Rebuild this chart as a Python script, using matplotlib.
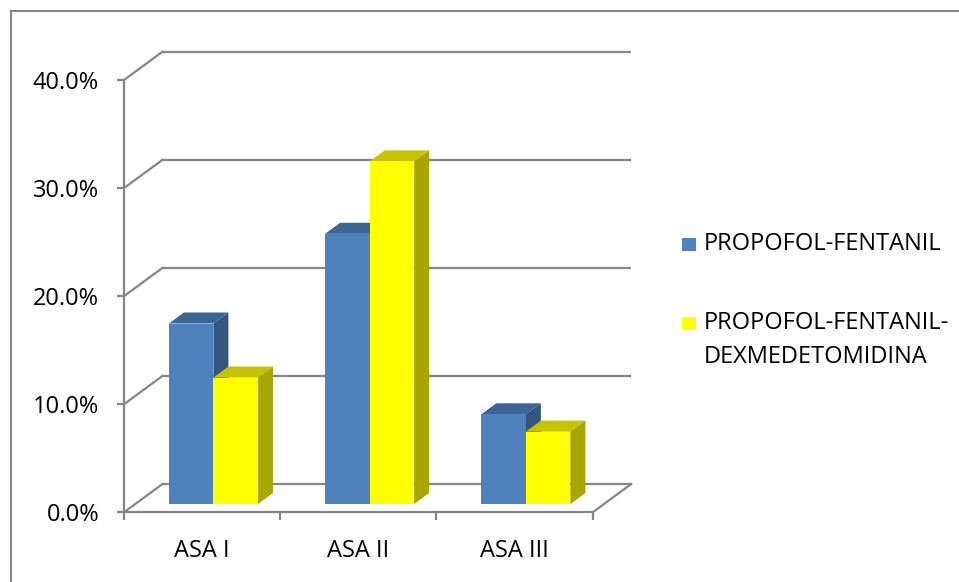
import matplotlib
matplotlib.use('Agg')
import matplotlib.pyplot as plt
from matplotlib.patches import Polygon, Rectangle
from matplotlib.lines import Line2D

# ---- data ----
categories = ['ASA I', 'ASA II', 'ASA III']
series_names = ['PROPOFOL-FENTANIL', 'PROPOFOL-FENTANIL-\nDEXMEDETOMIDINA']
propofol_fentanil = [16.7, 25.0, 8.3]
propofol_fentanil_dex = [11.7, 31.7, 6.7]
y_ticks = [0, 10, 20, 30, 40]
y_tick_labels = ['0.0%', '10.0%', '20.0%', '30.0%', '40.0%']

series_values = [propofol_fentanil, propofol_fentanil_dex]
front_colors = ['#4F81BD', '#FFFF00']
top_colors = ['#3D6594', '#C6C400']
side_colors = ['#34557E', '#A8A600']

plt.rcParams['font.family'] = ['Open Sans', 'DejaVu Sans']
FS = 17

W, H = 959, 582
fig = plt.figure(figsize=(W / 100, H / 100), dpi=100)


def fx(px):
    return px / W


def fy(py):
    return 1 - py / H


ax = fig.add_axes([fx(124), fy(512.3), fx(592.7) - fx(124), fy(80) - fy(512.3)])
ax.set_xlim(-0.5, 2.5)
ax.set_ylim(0, 40)
ax.patch.set_alpha(0)

DX = 38.5 / 156.2   # depth offset in category units
DY = 28.3 / 10.81   # depth offset in percent units
f0, f1 = 0.293, 0.683
w = 0.285
grid_c = '#868686'
lw = 1.6

# back wall gridlines and side wall diagonals
for v in y_ticks:
    ax.plot([-0.5 + DX, 2.5 + DX], [v + DY, v + DY], color=grid_c, lw=lw,
            clip_on=False, zorder=1, solid_capstyle='butt')
    ax.plot([-0.5, -0.5 + DX], [v, v + DY], color=grid_c, lw=lw,
            clip_on=False, zorder=1)
# floor right edge
ax.plot([2.5, 2.5 + DX], [0, DY], color=grid_c, lw=lw, clip_on=False, zorder=1)

# spines / ticks
for s in ['top', 'right']:
    ax.spines[s].set_visible(False)
for s in ['left', 'bottom']:
    ax.spines[s].set_color(grid_c)
    ax.spines[s].set_linewidth(lw)
    ax.spines[s].set_zorder(1)

ax.set_yticks(y_ticks, y_tick_labels)
ax.tick_params(axis='y', length=5, width=lw, color=grid_c, labelsize=FS, pad=13)
ax.set_xticks(range(len(categories)), categories)
ax.set_xticks([i - 0.5 for i in range(len(categories) + 1)], minor=True)
ax.tick_params(axis='x', which='major', length=0, labelsize=FS, pad=19)
ax.tick_params(axis='x', which='minor', length=6, width=lw, color=grid_c)

# 3D-looking bars
z = 3
for i in range(len(categories)):
    for s, vals in enumerate(series_values):
        h = vals[i]
        x0 = i - w + s * w
        x1 = x0 + w
        side = [(x1 + f0 * DX, f0 * DY), (x1 + f1 * DX, f1 * DY),
                (x1 + f1 * DX, h + f1 * DY), (x1 + f0 * DX, h + f0 * DY)]
        top = [(x0 + f0 * DX, h + f0 * DY), (x1 + f0 * DX, h + f0 * DY),
               (x1 + f1 * DX, h + f1 * DY), (x0 + f1 * DX, h + f1 * DY)]
        ax.add_patch(Polygon(side, closed=True, facecolor=side_colors[s],
                             edgecolor='none', zorder=z, clip_on=False))
        ax.add_patch(Polygon(top, closed=True, facecolor=top_colors[s],
                             edgecolor='none', zorder=z + 0.1, clip_on=False))
        ax.add_patch(Rectangle((x0 + f0 * DX, f0 * DY), w, h,
                               facecolor=front_colors[s], edgecolor='none',
                               zorder=z + 0.2, clip_on=False))
        z += 1

# legend (manual)
legend_rows = [(238, [244]), (317, [323, 357])]
for s, (sq_top, line_ys) in enumerate(legend_rows):
    fig.add_artist(Rectangle((fx(682), fy(sq_top + 13)), fx(14), 13 / H,
                             transform=fig.transFigure,
                             facecolor=front_colors[s], edgecolor='none'))
    for line, ly in zip(series_names[s].split('\n'), line_ys):
        fig.text(fx(704), fy(ly), line, fontsize=FS, va='center', ha='left')

# outer border (top and left visible)
fig.add_artist(Line2D([fx(11), 1.0], [fy(11), fy(11)], transform=fig.transFigure,
                      color=grid_c, lw=1.5))
fig.add_artist(Line2D([fx(11), fx(11)], [fy(11), 0.0], transform=fig.transFigure,
                      color=grid_c, lw=1.5))

fig.savefig('out.png', dpi=100)
